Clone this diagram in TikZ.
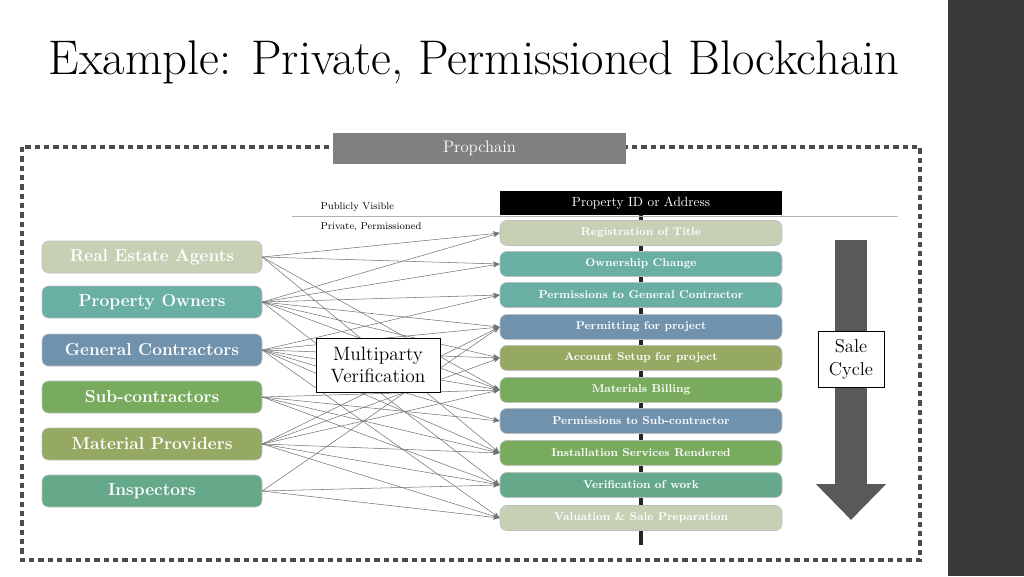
\documentclass[tikz,border=0pt]{standalone}
\usepackage{tikz}
\usetikzlibrary{arrows.meta,positioning}
\definecolor{sage}{HTML}{C6D0B5}
\definecolor{teal}{HTML}{6AAFA4}
\definecolor{steel}{HTML}{7192AD}
\definecolor{leaf}{HTML}{79AB5F}
\definecolor{olive}{HTML}{95A962}
\definecolor{mint}{HTML}{65A98A}
\tikzset{
    actor/.style={
           rounded corners=5pt,
           draw=black!25, fill=#1,
           minimum width=220*0.75pt, minimum height=32*0.75pt,
           text=white, font=\fontsize{13}{15}\selectfont\bfseries,
           },
    step/.style={
           rounded corners=5pt,
           draw=black!25, fill=#1,
           minimum width=282*0.75pt, minimum height=25*0.75pt,
           text=white, font=\fontsize{8.5}{10}\selectfont\bfseries,
           },
    link/.style={-{Stealth[length=5pt]}, black!55, thin},
}
\begin{document}
\begin{tikzpicture}[x=0.75pt,y=-0.75pt]
\useasboundingbox (0,0) rectangle (1024,576);
\fill[black!78] (948,0) rectangle (1024,576);
\node[anchor=west, font=\fontsize{36.5}{40}\selectfont] (title) at (44,62) {Example: Private, Permissioned Blockchain};
% frame
\draw[black!70, line width=3pt, dash pattern=on 4pt off 3pt] (22,147) rectangle (920,560);
\node[fill=black!50, text=white, minimum width=293*0.75pt, minimum height=31*0.75pt, font=\fontsize{12.5}{14}\selectfont] (chain) at (479.5,148) {Propchain};
% spine and divider
\coordinate (top) at (641,215);
\coordinate (bot) at (641,545);
\draw[black!85, line width=2.5pt] (top) -- (bot);
\coordinate (dl) at (292,216);
\coordinate (dr) at (898,216);
\draw[black!30] (dl) -- (dr);
\node[fill=black, text=white, minimum width=282*0.75pt, minimum height=24*0.75pt, font=\fontsize{10}{12}\selectfont] (pid) at (641,203) {Property ID or Address};
\node[anchor=west, font=\fontsize{7.5}{9}\selectfont] (pub) at (316,207) {Publicly Visible};
\node[anchor=west, font=\fontsize{7.5}{9}\selectfont] (priv) at (316,227) {Private, Permissioned};
% parties
\node[actor=sage]  (a1) at (152,257) {Real Estate Agents};
\node[actor=teal]  (a2) at (152,302) {Property Owners};
\node[actor=steel] (a3) at (152,350) {General Contractors};
\node[actor=leaf]  (a4) at (152,397) {Sub-contractors};
\node[actor=olive] (a5) at (152,444) {Material Providers};
\node[actor=mint]  (a6) at (152,491) {Inspectors};
% steps
\node[step=sage]  (s1)  at (641,233) {Registration of Title};
\node[step=teal]  (s2)  at (641,264) {Ownership Change};
\node[step=teal]  (s3)  at (641,295) {Permissions to General Contractor};
\node[step=steel] (s4)  at (641,327) {Permitting for project};
\node[step=olive] (s5)  at (641,358) {Account Setup for project};
\node[step=leaf]  (s6)  at (641,390) {Materials Billing};
\node[step=steel] (s7)  at (641,421) {Permissions to Sub-contractor};
\node[step=leaf]  (s8)  at (641,453) {Installation Services Rendered};
\node[step=mint]  (s9)  at (641,485) {Verification of work};
\node[step=sage]  (s10) at (641,518) {Valuation \& Sale Preparation};
% links
\foreach \a/\s in {a1/s1,a1/s2,a1/s6,a1/s8,
                   a2/s1,a2/s2,a2/s3,a2/s4,a2/s5,a2/s6,a2/s9,
                   a3/s3,a3/s4,a3/s5,a3/s6,a3/s7,a3/s8,a3/s10,
                   a4/s6,a4/s7,a4/s8,a4/s9,
                   a5/s4,a5/s5,a5/s6,a5/s8,a5/s9,a5/s10,
                   a6/s4,a6/s9,a6/s10}
    \draw[link] (\a.east) -- (\s.west);
\node[draw, fill=white, align=center, minimum width=124*0.75pt, minimum height=54*0.75pt, inner sep=2pt, font=\fontsize{14.5}{17}\selectfont] (mv) at (378,365) {Multiparty\\Verification};
% sale cycle
\coordinate (c1) at (851,240);
\coordinate (c2) at (851,520);
\draw[-{Triangle[width=68*0.75pt, length=36*0.75pt]}, line width=32*0.75pt, black!65] (c1) -- (c2);
\node[draw, fill=white, align=center, minimum width=66*0.75pt, minimum height=56*0.75pt, font=\fontsize{14}{17}\selectfont] (sale) at (851,359) {Sale\\Cycle};
\end{tikzpicture}
\end{document}
